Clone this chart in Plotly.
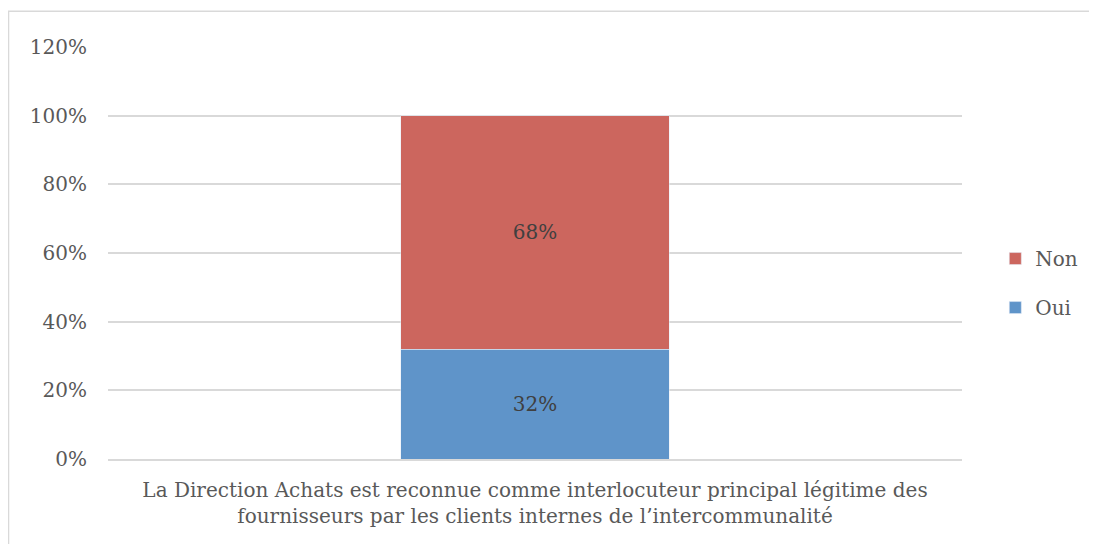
import plotly.graph_objects as go

category = ["La Direction Achats est reconnue comme interlocuteur principal légitime des<br>fournisseurs par les clients internes de l’intercommunalité"]
oui = [0.32]
non = [0.68]

FONT = "DejaVu Serif"

fig = go.Figure()

fig.add_trace(go.Bar(
    x=category, y=oui, name="Oui", legendgroup="oui", legendrank=2,
    marker_color="#5f94c9", width=0.314,
    text=[f"{v:.0%}" for v in oui], textposition="inside",
    insidetextanchor="middle", textfont=dict(color="#404040", size=20, family=FONT),
))
fig.add_trace(go.Bar(
    x=category, y=non, name="Non", legendgroup="non", legendrank=1,
    marker_color="#cc665e", width=0.314,
    text=[f"{v:.0%}" for v in non], textposition="inside",
    insidetextanchor="middle", textfont=dict(color="#404040", size=20, family=FONT),
))

# page body has an 8px margin, so the plot area is placed 8px up/left
fig.update_layout(
    barmode="stack",
    width=1097, height=544,
    margin=dict(l=100, r=143, t=39, b=93),
    plot_bgcolor="white", paper_bgcolor="white",
    font=dict(family=FONT, size=20, color="#595959"),
    legend=dict(
        x=1.039, y=0.427, xanchor="left", yanchor="middle",
        traceorder="grouped", tracegroupgap=20, itemwidth=30,
        font=dict(size=20, color="#595959"),
    ),
    shapes=[dict(
        type="rect", xref="paper", yref="paper",
        x0=-0.1165, x1=1.2, y0=-0.25, y1=1.087,
        line=dict(color="#d9d9d9", width=1.5), layer="below",
    )],
)

fig.update_yaxes(
    range=[0, 1.2], dtick=0.2, tickformat=".0%",
    showgrid=True, gridcolor="#d9d9d9", gridwidth=1.5,
    zeroline=False, ticks="", ticklabelstandoff=20,
)
fig.update_xaxes(
    showline=True, linecolor="#d9d9d9", linewidth=1.5,
    ticks="", tickfont=dict(size=20), ticklabelstandoff=12,
)

fig.write_html("out.html")
